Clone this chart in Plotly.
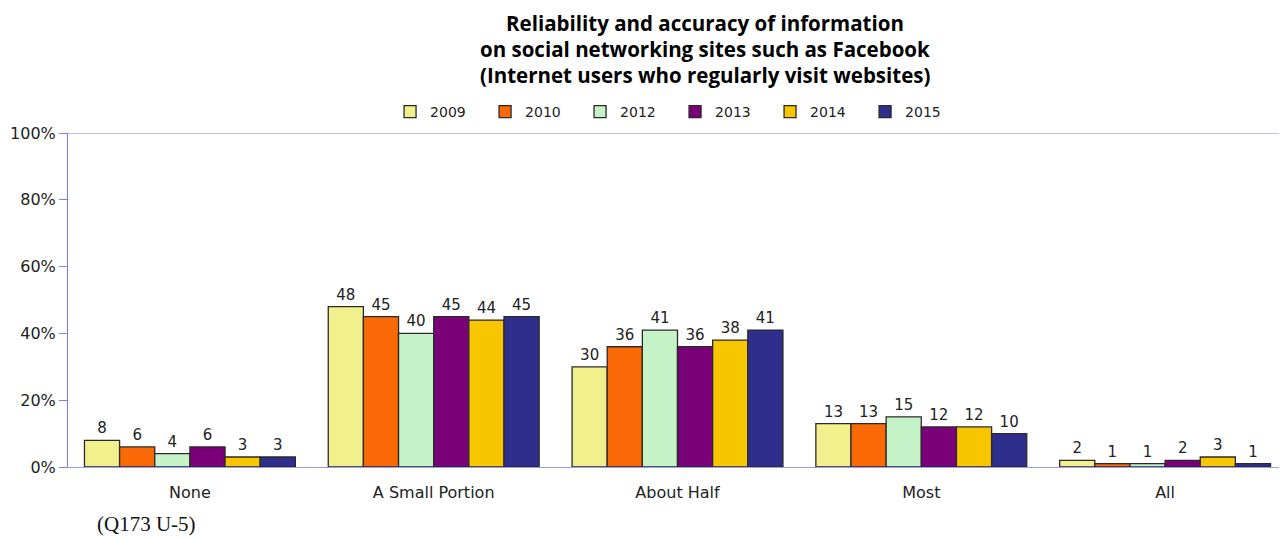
import plotly.graph_objects as go

categories = ["None", "A Small Portion", "About Half", "Most", "All"]
years = ["2009", "2010", "2012", "2013", "2014", "2015"]
values = {
    "2009": [8, 48, 30, 13, 2],
    "2010": [6, 45, 36, 13, 1],
    "2012": [4, 40, 41, 15, 1],
    "2013": [6, 45, 36, 12, 2],
    "2014": [3, 44, 38, 12, 3],
    "2015": [3, 45, 41, 10, 1],
}
colors = {
    "2009": "#F2F08C",
    "2010": "#F96A06",
    "2012": "#C6F2C8",
    "2013": "#7A007A",
    "2014": "#F7C600",
    "2015": "#2E2E8C",
}
y_ticks = [0, 20, 40, 60, 80, 100]
title_lines = [
    "Reliability and accuracy of information",
    "on social networking sites such as Facebook",
    "(Internet users who regularly visit websites)",
]

fig = go.Figure()
for yr in years:
    fig.add_trace(go.Bar(
        x=categories,
        y=values[yr],
        name=yr,
        marker=dict(color=colors[yr], line=dict(color="#2a2a2a", width=1.3)),
        text=values[yr],
        textposition="outside",
        textfont=dict(size=15, color="#222", family="DejaVu Sans"),
        cliponaxis=False,
    ))

# the page body adds an 8px offset, so margins are trimmed by that much
fig.update_layout(
    width=1287, height=540,
    margin=dict(l=60, r=8, t=125, b=81, autoexpand=False),
    paper_bgcolor="white", plot_bgcolor="white",
    barmode="group", bargap=0.135, bargroupgap=0,
    font=dict(family="DejaVu Sans", color="#222"),
    legend=dict(
        orientation="h", x=0.498, xanchor="center", y=1.063, yanchor="middle",
        entrywidth=50, font=dict(size=14, color="#222"),
        itemwidth=30,
    ),
    showlegend=True,
)

# title, one annotation per line so the spacing can be set
for line, ypx in zip(title_lines, [23, 49, 75]):
    fig.add_annotation(
        text=f"<b>{line}</b>",
        xref="paper", yref="paper", x=(705 - 68) / 1219, y=(467 - ypx) / 334,
        xanchor="center", yanchor="middle", showarrow=False, borderpad=0,
        font=dict(size=20.5, family="Open Sans", color="black"),
    )

fig.update_yaxes(
    range=[0, 100], tickvals=y_ticks, ticktext=[f"{v}%" for v in y_ticks],
    showgrid=False, showline=True, linecolor="#7B7BF2", linewidth=1,
    ticks="outside", ticklen=8, tickcolor="#7B7BF2",
    tickfont=dict(size=16, color="#222"), zeroline=False,
)
fig.update_xaxes(
    showline=True, linecolor="#9A9AF2", linewidth=1,
    tickfont=dict(size=16, color="#222"), ticks="", ticklabelstandoff=11,
)

# top border line at 100%
fig.add_shape(type="line", xref="paper", yref="y", x0=0, x1=1, y0=100, y1=100,
              line=dict(color="#7B7BF2", width=1))

fig.add_annotation(
    text="(Q173 U-5)", xref="paper", yref="paper", x=(95 - 68) / 1219, y=-0.17,
    xanchor="left", yanchor="middle", showarrow=False,
    font=dict(size=21, family="Liberation Serif", color="#111"),
)

fig.write_html("out.html")
